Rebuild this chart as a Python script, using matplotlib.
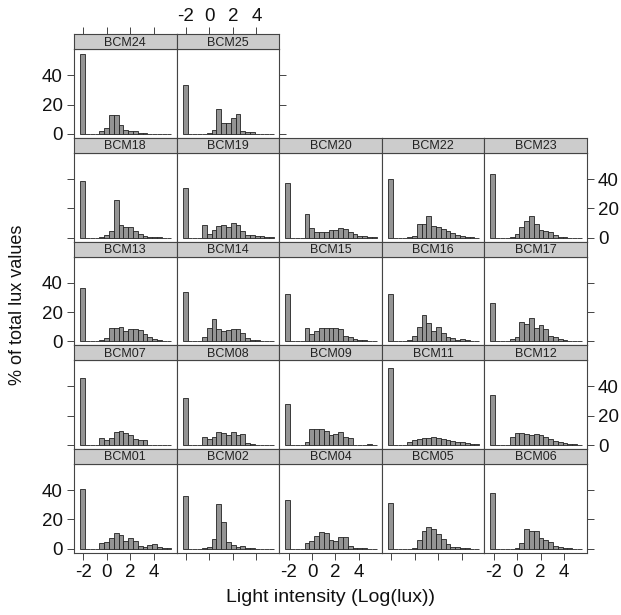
import matplotlib.pyplot as plt
import numpy as np

plt.rcParams['font.family'] = ['Liberation Sans', 'DejaVu Sans']
plt.rcParams['axes.unicode_minus'] = False

# histogram bins (log10 lux), shared by every panel
bin_left = -2.28
bin_width = 0.41
n_bins = 19

# % of total lux values per bin
bcm24 = [54.4, 0, 0, 0, 1.9, 4.0, 12.9, 13.2, 6.4, 3.0, 1.9, 2.1, 0.9, 0.3, 0.1, 0, 0, 0, 0]
bcm25 = [33.4, 0, 0, 0, 0.1, 0.5, 2.5, 17.0, 7.5, 7.3, 10.8, 13.8, 2.1, 1.6, 1.6, 0.2, 0, 0, 0]
bcm18 = [38.6, 0, 0, 0, 0.5, 1.6, 4.4, 25.7, 8.7, 7.5, 7.3, 4.4, 2.3, 1.4, 0.7, 0.3, 0.2, 0, 0]
bcm19 = [34.2, 0, 0, 0, 8.9, 2.8, 5.4, 8.2, 8.4, 7.0, 10.3, 8.7, 4.7, 2.1, 1.6, 1.4, 1.0, 0.7, 0.3]
bcm20 = [37.2, 0, 0, 0, 16.4, 6.5, 3.5, 4.0, 4.0, 5.1, 5.4, 6.3, 6.1, 4.0, 2.3, 1.4, 0.9, 0.5, 0.2]
bcm22 = [39.8, 0, 0, 0, 0.3, 1.0, 9.0, 9.6, 15.0, 8.2, 7.0, 6.0, 4.5, 3.0, 1.6, 1.0, 0.5, 0.2, 0]
bcm23 = [43.7, 0, 0, 0, 0.3, 2.8, 7.0, 11.5, 15.0, 9.1, 4.9, 4.7, 4.0, 1.6, 0.7, 0.3, 0, 0, 0]
bcm13 = [36.5, 0, 0, 0, 0.9, 2.1, 9.1, 9.1, 10.0, 7.3, 8.4, 8.2, 7.7, 4.9, 2.6, 1.4, 0.7, 0.3, 0.1]
bcm14 = [33.7, 0, 0, 0, 3.0, 9.1, 15.0, 8.4, 6.8, 8.0, 8.7, 8.2, 5.4, 2.1, 1.2, 0.7, 0.3, 0, 0]
bcm15 = [32.3, 0, 0, 0, 8.9, 4.9, 7.0, 9.1, 9.1, 9.1, 9.1, 8.4, 3.7, 2.6, 1.4, 1.2, 0.9, 0.5, 0.2]
bcm16 = [32.3, 0, 0, 0, 1.2, 3.5, 10.0, 18.0, 12.4, 7.0, 10.0, 6.0, 3.0, 2.1, 1.2, 1.9, 0.7, 0.3, 0]
bcm17 = [26.0, 0, 0, 0, 1.9, 3.0, 13.3, 11.5, 15.9, 8.9, 10.8, 8.4, 3.3, 2.6, 1.9, 0.7, 0.3, 0, 0]
bcm07 = [45.6, 0, 0, 0, 5.0, 3.7, 5.0, 8.9, 9.4, 8.2, 7.0, 4.2, 3.2, 3.7, 0.2, 0.1, 0, 0, 0]
bcm08 = [31.8, 0, 0, 0, 5.8, 4.0, 5.6, 8.9, 8.4, 7.0, 9.1, 7.0, 7.7, 1.6, 0.5, 0.3, 0.1, 0, 0]
bcm09 = [28.0, 0, 0, 0, 2.3, 10.8, 10.8, 11.0, 9.5, 6.5, 7.7, 8.7, 5.4, 5.0, 0.2, 0.1, 0.1, 1.0, 0]
bcm11 = [52.9, 0, 0, 0, 1.9, 3.7, 4.4, 5.1, 5.1, 5.4, 5.1, 4.4, 3.7, 3.0, 2.1, 1.9, 1.4, 0.9, 0.4]
bcm12 = [34.4, 0, 0, 0, 5.4, 8.4, 8.0, 7.5, 7.0, 7.5, 6.8, 5.6, 4.2, 3.0, 1.9, 1.4, 0.9, 0.7, 0.3]
bcm01 = [40.5, 0, 0, 0, 4.0, 4.5, 7.5, 10.5, 9.5, 5.5, 7.5, 5.0, 2.0, 1.5, 2.5, 3.0, 1.0, 0.5, 0.2]
bcm02 = [36.0, 0, 0, 0, 0.3, 1.2, 6.3, 30.4, 18.2, 4.4, 2.6, 1.4, 1.6, 0.4, 0.2, 0.1, 0, 0, 0]
bcm04 = [33.2, 0, 0, 0, 4.0, 5.0, 9.0, 11.2, 11.0, 6.0, 5.6, 8.2, 8.0, 2.0, 0.7, 0.3, 0.2, 0.1, 0.1]
bcm05 = [31.0, 0, 0, 0, 0.1, 0.5, 6.0, 12.4, 14.5, 13.3, 10.0, 6.8, 3.0, 1.4, 0.9, 0.4, 0.2, 0.1, 0]
bcm06 = [38.0, 0, 0, 0, 0.1, 0.4, 4.2, 13.6, 12.4, 12.0, 7.0, 5.8, 4.4, 2.1, 1.2, 0.5, 0.2, 0.1, 0]

layout = [
    [("BCM24", bcm24), ("BCM25", bcm25)],
    [("BCM18", bcm18), ("BCM19", bcm19), ("BCM20", bcm20), ("BCM22", bcm22), ("BCM23", bcm23)],
    [("BCM13", bcm13), ("BCM14", bcm14), ("BCM15", bcm15), ("BCM16", bcm16), ("BCM17", bcm17)],
    [("BCM07", bcm07), ("BCM08", bcm08), ("BCM09", bcm09), ("BCM11", bcm11), ("BCM12", bcm12)],
    [("BCM01", bcm01), ("BCM02", bcm02), ("BCM04", bcm04), ("BCM05", bcm05), ("BCM06", bcm06)],
]

xticks = [-2, 0, 2, 4]
yticks = [0, 20, 40]
xlim = (-2.8, 5.95)
ylim = (-2.8, 57.8)

W, H = 621, 615
fig = plt.figure(figsize=(W / 100, H / 100), dpi=100)

col_x0, col_w = 74, 102.6
row_y0, row_h, strip_h = 34.3, 103.7, 15
edge = '#444444'
tick_fs = 13.5


def px_axes(x, y, w, h):
    return fig.add_axes([x / W, 1 - (y + h) / H, w / W, h / H])


left_edges = bin_left + bin_width * np.arange(n_bins)
nrows = len(layout)

for r, row in enumerate(layout):
    for c, (name, vals) in enumerate(row):
        x = col_x0 + c * col_w
        y = row_y0 + r * row_h
        ax = px_axes(x, y + strip_h, col_w, row_h - strip_h)
        ax.bar(left_edges, vals, width=bin_width, align='edge',
               color='#949494', edgecolor='#222222', linewidth=0.6)
        ax.set_xlim(*xlim)
        ax.set_ylim(*ylim)
        for s in ax.spines.values():
            s.set_color(edge)
            s.set_linewidth(0.8)
        ax.set_xticks(xticks)
        ax.set_yticks(yticks)
        ax.tick_params(direction='out', length=5, width=0.7, color=edge,
                       labelsize=tick_fs, pad=3, labelcolor='#111111')

        last_in_row = c == len(row) - 1
        ax.tick_params(left=(c == 0), labelleft=(c == 0 and r % 2 == 0),
                       right=last_in_row, labelright=(last_in_row and r % 2 == 1),
                       bottom=(r == nrows - 1), labelbottom=(r == nrows - 1 and c % 2 == 0),
                       top=False, labeltop=False)

        sx = px_axes(x, y, col_w, strip_h)
        sx.set_facecolor('#cccccc')
        sx.set_xlim(*xlim)
        sx.set_yticks([])
        for s in sx.spines.values():
            s.set_color(edge)
            s.set_linewidth(0.8)
        sx.set_xticks(xticks)
        sx.tick_params(direction='out', length=5, width=0.7, color=edge,
                       labelsize=tick_fs, pad=2, labelcolor='#111111',
                       bottom=False, labelbottom=False,
                       top=(r == 0), labeltop=(r == 0 and c % 2 == 1))
        sx.text(0.5, 0.45, name, transform=sx.transAxes, ha='center', va='center',
                fontsize=9, color='#222222')

fig.text(330 / W, 1 - 598 / H, 'Light intensity (Log(lux))', ha='center', va='center',
         fontsize=14, color='#111111')
fig.text(18 / W, 1 - 305 / H, '% of total lux values', ha='center', va='center',
         rotation=90, fontsize=13, color='#111111')

fig.savefig('out.png', dpi=100)
